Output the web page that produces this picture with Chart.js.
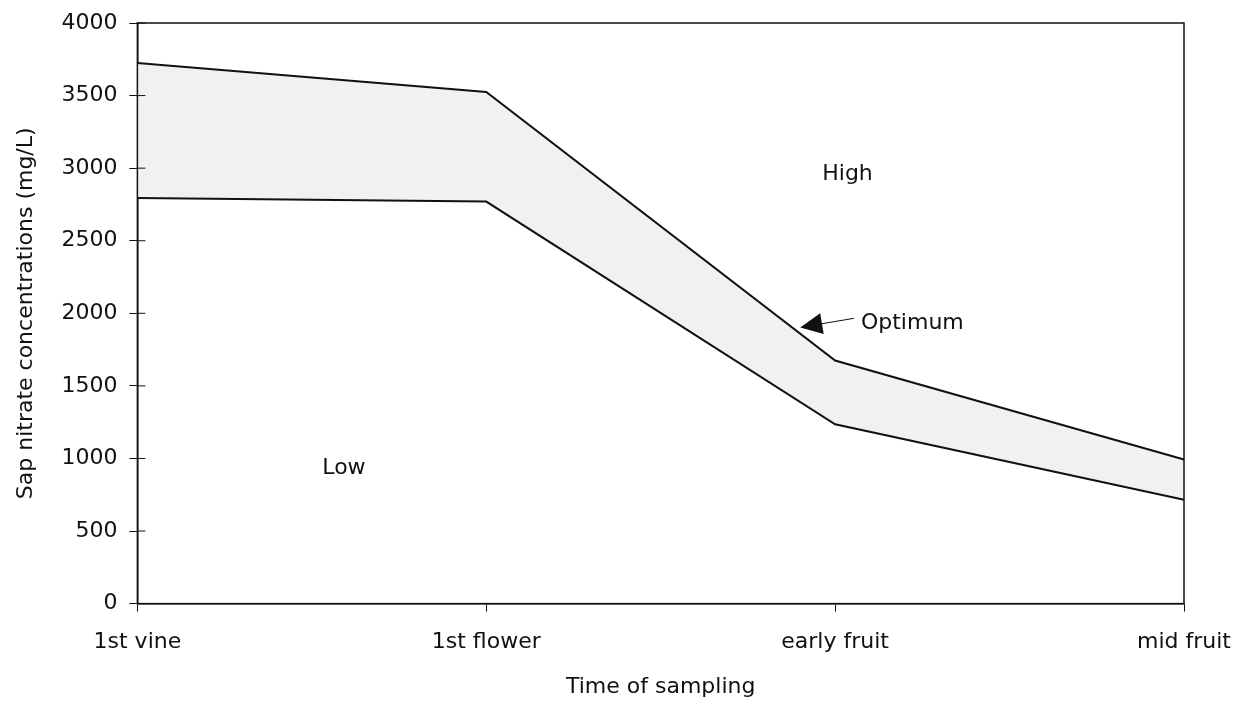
<!DOCTYPE html>
<html>
<head>
<meta charset="utf-8">
<script src="https://cdn.jsdelivr.net/npm/chart.js@4.4.1/dist/chart.umd.min.js"></script>
<style>
  html, body { margin: 0; padding: 0; background: #fff; }
  #wrap { width: 1253px; height: 710px; position: relative; }
</style>
</head>
<body>
<div id="wrap"><canvas id="chart"></canvas></div>
<script>
// Data
const stages = ['1st vine', '1st flower', 'early fruit', 'mid fruit'];
const lowerLimit = [2795, 2770, 1235, 715];
const upperLimit = [3725, 3525, 1675, 993];
const yTicks = [0, 500, 1000, 1500, 2000, 2500, 3000, 3500, 4000];

// Region labels, in data units (category index, mg/L)
const regionLabels = [
  { text: 'High', x: 1.963, y: 2955 },
  { text: 'Low', x: 0.53, y: 931 },
];
const optimumNote = { text: 'Optimum', x: 2.074, y: 1931, tipX: 1.90, tipY: 1903 };

const font = '"DejaVu Sans", "Liberation Sans", Arial, sans-serif';
const fontSize = 22;

// frame, inward y ticks, labels and arrow
const extras = {
  id: 'extras',
  afterDatasetsDraw(chart) {
    const { ctx, chartArea: a, scales } = chart;
    const xs = scales.x, ys = scales.y;
    ctx.save();
    ctx.strokeStyle = '#111';
    ctx.lineWidth = 1.5;
    ctx.strokeRect(a.left, a.top, a.right - a.left, a.bottom - a.top);
    ctx.lineWidth = 1;
    yTicks.forEach(v => {
      const py = ys.getPixelForValue(v);
      ctx.beginPath();
      ctx.moveTo(a.left, py);
      ctx.lineTo(a.left + 8, py);
      ctx.stroke();
    });

    ctx.fillStyle = '#111';
    ctx.font = fontSize + 'px ' + font;
    ctx.textBaseline = 'middle';
    ctx.textAlign = 'left';
    regionLabels.forEach(l => {
      ctx.fillText(l.text, xs.getPixelForValue(l.x), ys.getPixelForValue(l.y));
    });

    // Optimum label with arrow
    const tx = xs.getPixelForValue(optimumNote.x);
    const ty = ys.getPixelForValue(optimumNote.y);
    ctx.fillText(optimumNote.text, tx, ty);
    const px = xs.getPixelForValue(optimumNote.tipX);
    const py = ys.getPixelForValue(optimumNote.tipY);
    const sx = tx - 7, sy = ty - 5;
    const ang = Math.atan2(py - sy, px - sx);
    const cos = Math.cos(ang), sin = Math.sin(ang);
    ctx.lineWidth = 1;
    ctx.beginPath();
    ctx.moveTo(sx, sy);
    ctx.lineTo(px - 18 * cos, py - 18 * sin);
    ctx.stroke();
    // triangle: tip at (px,py), base 22px back towards the text
    const bx = px - 22 * cos, by = py - 22 * sin;
    ctx.beginPath();
    ctx.moveTo(px, py);
    ctx.lineTo(bx - 10.5 * sin, by + 10.5 * cos);
    ctx.lineTo(bx + 10.5 * sin, by - 10.5 * cos);
    ctx.closePath();
    ctx.fill();
    ctx.restore();
  }
};

new Chart(document.getElementById('chart'), {
  type: 'line',
  data: {
    labels: stages,
    datasets: [
      {
        label: 'Lower limit',
        data: lowerLimit,
        borderColor: '#111',
        borderWidth: 2,
        pointRadius: 0,
        tension: 0,
        fill: false
      },
      {
        label: 'Upper limit',
        data: upperLimit,
        borderColor: '#111',
        borderWidth: 2,
        pointRadius: 0,
        tension: 0,
        fill: { target: '-1' },
        backgroundColor: '#f1f1f1'
      }
    ]
  },
  options: {
    responsive: true,
    maintainAspectRatio: false,
    animation: false,
    layout: { padding: { top: 22, right: 69, left: 5, bottom: 4 } },
    plugins: {
      legend: { display: false },
      tooltip: { enabled: false }
    },
    scales: {
      x: {
        offset: false,
        border: { color: '#111', width: 1.5 },
        grid: { drawOnChartArea: false, tickLength: 8, color: '#111' },
        ticks: { color: '#111', font: { family: font, size: fontSize, lineHeight: 1 }, padding: 20, maxRotation: 0 },
        title: { display: true, text: 'Time of sampling', color: '#111', font: { family: font, size: fontSize }, padding: { top: 0, bottom: 6 } }
      },
      y: {
        min: 0,
        max: 4000,
        border: { color: '#111', width: 1.5 },
        grid: { drawOnChartArea: false, tickLength: 8, color: '#111' },
        ticks: {
          stepSize: 500,
          color: '#111',
          font: { family: font, size: fontSize, lineHeight: 1 },
          padding: 12,
          callback: v => String(v)
        },
        title: { display: true, text: 'Sap nitrate concentrations (mg/L)', color: '#111', font: { family: font, size: fontSize }, padding: { top: 8, bottom: 10 } }
      }
    }
  },
  plugins: [extras]
});
</script>
</body>
</html>
